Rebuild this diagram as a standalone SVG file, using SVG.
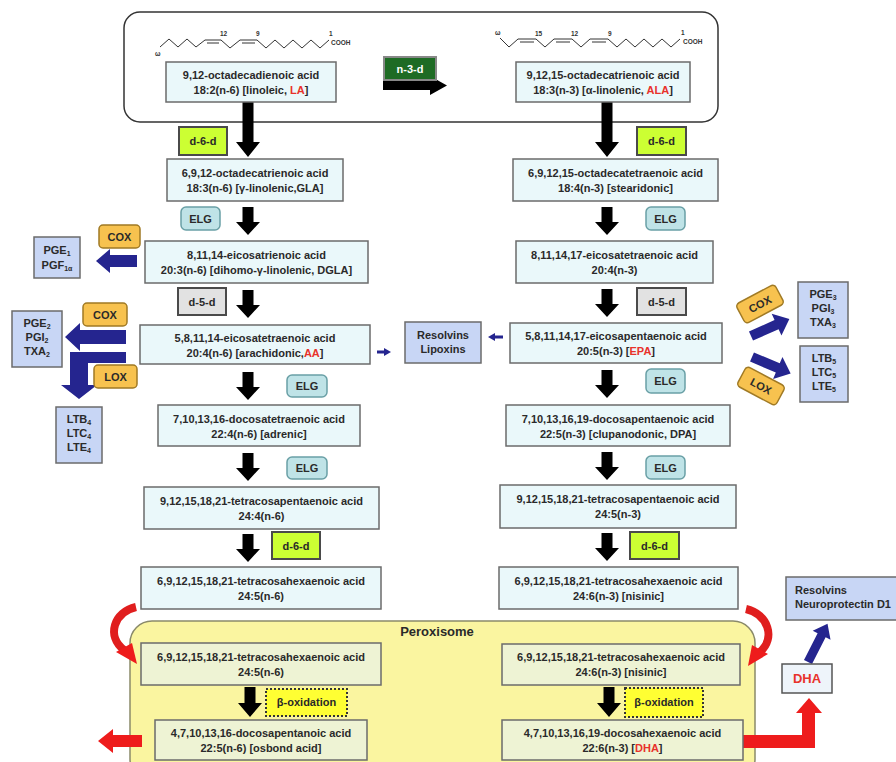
<svg xmlns="http://www.w3.org/2000/svg" width="896" height="762" viewBox="0 0 896 762">
<defs>
<style>
.box{fill:#eaf8fa;stroke:#6b6b6b;stroke-width:1.5}
.pbox{fill:#eef3d4;stroke:#6b6b6b;stroke-width:1.5}
.t{font-family:"Liberation Sans",Arial,sans-serif;font-weight:bold;font-size:11px;fill:#2a2a2a;text-anchor:middle}
.s{font-size:7px}
.red{fill:#e8322b}
.d6{fill:#ccff33;stroke:#4a4a4a;stroke-width:2}
.d5{fill:#e2e2e2;stroke:#4a4a4a;stroke-width:2}
.elg{fill:#bfe3e7;stroke:#6aa0a6;stroke-width:1.5}
.cox{fill:#f7c24f;stroke:#a07a25;stroke-width:1.5}
.prod{fill:#c8d6f5;stroke:#6b6b6b;stroke-width:1.5}
.blk{fill:#000}
.blue{fill:#25258f}
.rarr{fill:#ee1c1c}
.chain{fill:none;stroke:#333;stroke-width:1}
.ct{font-family:"Liberation Sans",Arial,sans-serif;font-weight:bold;font-size:6.5px;fill:#333}
</style>
<polygon id="dshort" points="-5.5,0 5.5,0 5.5,15 12,15 0,28 -12,15 -5.5,15"/>
<polygon id="dlong" points="-5.5,0 5.5,0 5.5,40 12,40 0,55 -12,40 -5.5,40"/>
<polygon id="dox" points="-5.5,0 5.5,0 5.5,16 12,16 0,30 -12,16 -5.5,16"/>
</defs>
<rect width="896" height="762" fill="#fff"/>

<g id="top-frame">
<rect x="124" y="12" width="594" height="110" rx="16" fill="#fff" stroke="#333" stroke-width="1.5"/>
</g>

<g id="peroxisome">
<rect x="130" y="621" width="625" height="160" rx="22" fill="#faf5a0" stroke="#8a8a6a" stroke-width="1.5"/>
<text class="t" x="437" y="636" style="font-size:13px">Peroxisome</text>
</g>

<g id="la-structure">
<polyline class="chain" points="160,47 169,39 178,47 187,39 196,47 205,40 221,40 230,48 240,40 257,40 266,48 275,40 284,48 293,40 302,48 311,40 320,48 329,40"/>
<line class="chain" x1="207" y1="43" x2="219" y2="43"/>
<line class="chain" x1="242" y1="43" x2="255" y2="43"/>
<text class="ct" x="155" y="56">ω</text>
<text class="ct" x="220" y="36">12</text>
<text class="ct" x="256" y="36">9</text>
<text class="ct" x="329" y="36">1</text>
<text class="ct" x="331" y="45">COOH</text>
</g>

<g id="ala-structure">
<polyline class="chain" points="500,38 509,47 518,39 536,39 545,47 554,39 572,39 581,47 590,39 608,39 617,47 626,39 635,47 644,39 653,47 662,39 671,47 680,39"/>
<line class="chain" x1="520" y1="42" x2="534" y2="42"/>
<line class="chain" x1="556" y1="42" x2="570" y2="42"/>
<line class="chain" x1="592" y1="42" x2="606" y2="42"/>
<text class="ct" x="495" y="35">ω</text>
<text class="ct" x="535" y="36">15</text>
<text class="ct" x="571" y="36">12</text>
<text class="ct" x="608" y="36">9</text>
<text class="ct" x="681" y="35">1</text>
<text class="ct" x="683" y="44">COOH</text>
</g>

<g id="connectors">
<use href="#dlong" class="blk" x="248" y="102"/>
<use href="#dshort" class="blk" x="248" y="207"/>
<use href="#dshort" class="blk" x="248" y="290"/>
<use href="#dshort" class="blk" x="248" y="372"/>
<use href="#dshort" class="blk" x="248" y="453"/>
<use href="#dshort" class="blk" x="248" y="534"/>
<use href="#dox" class="blk" x="250" y="687"/>
<use href="#dlong" class="blk" x="607" y="102"/>
<use href="#dshort" class="blk" x="607" y="207"/>
<use href="#dshort" class="blk" x="607" y="289"/>
<use href="#dshort" class="blk" x="607" y="370"/>
<use href="#dshort" class="blk" x="607" y="452"/>
<use href="#dshort" class="blk" x="607" y="533"/>
<use href="#dox" class="blk" x="609" y="687"/>
<polygon class="blk" points="383,81 430,81 430,76 447,85.5 430,95 430,90 383,90"/>
<polygon class="blue" points="137,255 110,255 110,249 96,261 110,273 110,267 137,267"/>
<polygon class="blue" points="126,330 80,330 80,323 65,337 80,351 80,344 126,344"/>
<polygon class="blue" points="126,352 126,363 88,363 88,385 97,385 79,399 61,385 70,385 70,352"/>
<polygon class="blue" points="377,350.5 384,350.5 384,348 391,352 384,356 384,353.5 377,353.5"/>
<polygon class="blue" points="503,335.5 495,335.5 495,333 488,337 495,341 495,338.5 503,338.5"/>
<polygon class="blue" transform="translate(751,336) rotate(-24)" points="0,-5 28,-5 28,-12 42,0 28,12 28,5 0,5"/>
<polygon class="blue" transform="translate(752,357) rotate(23)" points="0,-5 28,-5 28,-12 42,0 28,12 28,5 0,5"/>
<polygon class="blue" transform="translate(808,662) rotate(-63)" points="0,-4.5 30,-4.5 30,-10 43,0 30,10 30,4.5 0,4.5"/>
<path d="M136,607 C114,612 106,636 124,650" fill="none" stroke="#e01e1e" stroke-width="8"/>
<polygon class="rarr" points="116,652 132,643 137,664"/>
<path d="M746,609 C768,614 776,638 760,652" fill="none" stroke="#e01e1e" stroke-width="8"/>
<polygon class="rarr" points="768,654 752,645 748,666"/>
<polygon class="rarr" points="743,735 802,735 802,713 796,713 809,698 822,713 815,713 815,748 743,748"/>
<polygon class="rarr" points="142,735 113,735 113,729 98,741 113,753 113,747 142,747"/>
</g>

<g id="n3d">
<rect x="384" y="57" width="52" height="23" fill="#1e6b24" stroke="#888" stroke-width="2"/>
<text class="t" x="410" y="72.5" style="fill:#fff">n-3-d</text>
</g>

<g id="LA"><rect class="box" x="166" y="62" width="170" height="40"/>
<text class="t" x="251" y="79">9,12-octadecadienoic acid</text>
<text class="t" x="251" y="94">18:2(n-6) [linoleic, <tspan class="red">LA</tspan>]</text></g>
<g id="GLA"><rect class="box" x="167" y="159" width="176" height="42"/>
<text class="t" x="255" y="177">6,9,12-octadecatrienoic acid</text>
<text class="t" x="255" y="192">18:3(n-6) [γ-linolenic,GLA]</text></g>
<g id="DGLA"><rect class="box" x="145" y="241" width="223" height="42"/>
<text class="t" x="256.5" y="259">8,11,14-eicosatrienoic acid</text>
<text class="t" x="256.5" y="274">20:3(n-6) [dihomo-γ-linolenic, DGLA]</text></g>
<g id="AA"><rect class="box" x="140" y="325" width="230" height="39"/>
<text class="t" x="255" y="342">5,8,11,14-eicosatetraenoic acid</text>
<text class="t" x="255" y="357">20:4(n-6) [arachidonic,<tspan class="red">AA</tspan>]</text></g>
<g id="adrenic"><rect class="box" x="158" y="405" width="202" height="41"/>
<text class="t" x="259" y="423">7,10,13,16-docosatetraenoic acid</text>
<text class="t" x="259" y="438">22:4(n-6) [adrenic]</text></g>
<g id="TPA-n6"><rect class="box" x="144" y="487" width="235" height="42"/>
<text class="t" x="261.5" y="505">9,12,15,18,21-tetracosapentaenoic acid</text>
<text class="t" x="261.5" y="520">24:4(n-6)</text></g>
<g id="THA-n6"><rect class="box" x="141" y="567" width="240" height="42"/>
<text class="t" x="261" y="585">6,9,12,15,18,21-tetracosahexaenoic acid</text>
<text class="t" x="261" y="600">24:5(n-6)</text></g>
<g id="THA-n6-perox"><rect class="pbox" x="141" y="643" width="240" height="42"/>
<text class="t" x="261" y="661">6,9,12,15,18,21-tetracosahexaenoic acid</text>
<text class="t" x="261" y="676">24:5(n-6)</text></g>
<g id="osbond"><rect class="pbox" x="155" y="720" width="212" height="40"/>
<text class="t" x="261" y="737">4,7,10,13,16-docosapentanoic acid</text>
<text class="t" x="261" y="752">22:5(n-6) [osbond acid]</text></g>

<g id="ALA"><rect class="box" x="516" y="62" width="174" height="40"/>
<text class="t" x="603" y="79">9,12,15-octadecatrienoic acid</text>
<text class="t" x="603" y="94">18:3(n-3) [α-linolenic, <tspan class="red">ALA</tspan>]</text></g>
<g id="stearidonic"><rect class="box" x="513" y="159" width="205" height="42"/>
<text class="t" x="615.5" y="177">6,9,12,15-octadecatetraenoic acid</text>
<text class="t" x="615.5" y="192">18:4(n-3) [stearidonic]</text></g>
<g id="ETA"><rect class="box" x="516" y="241" width="197" height="42"/>
<text class="t" x="614.5" y="259">8,11,14,17-eicosatetraenoic acid</text>
<text class="t" x="614.5" y="274">20:4(n-3)</text></g>
<g id="EPA"><rect class="box" x="510" y="323" width="212" height="40"/>
<text class="t" x="616" y="340">5,8,11,14,17-eicosapentaenoic acid</text>
<text class="t" x="616" y="355">20:5(n-3) [<tspan class="red">EPA</tspan>]</text></g>
<g id="DPA"><rect class="box" x="506" y="405" width="224" height="41"/>
<text class="t" x="618" y="423">7,10,13,16,19-docosapentaenoic acid</text>
<text class="t" x="618" y="438">22:5(n-3) [clupanodonic, DPA]</text></g>
<g id="TPA-n3"><rect class="box" x="500" y="485" width="236" height="43"/>
<text class="t" x="618" y="503">9,12,15,18,21-tetracosapentaenoic acid</text>
<text class="t" x="618" y="518">24:5(n-3)</text></g>
<g id="THA-n3"><rect class="box" x="499" y="567" width="239" height="42"/>
<text class="t" x="618.5" y="585">6,9,12,15,18,21-tetracosahexaenoic acid</text>
<text class="t" x="618.5" y="600">24:6(n-3) [nisinic]</text></g>
<g id="THA-n3-perox"><rect class="pbox" x="502" y="644" width="238" height="41"/>
<text class="t" x="621" y="661">6,9,12,15,18,21-tetracosahexaenoic acid</text>
<text class="t" x="621" y="676">24:6(n-3) [nisinic]</text></g>
<g id="DHA-acid"><rect class="pbox" x="502" y="720" width="241" height="40"/>
<text class="t" x="622.5" y="737">4,7,10,13,16,19-docosahexaenoic acid</text>
<text class="t" x="622.5" y="752">22:6(n-3) [<tspan class="red">DHA</tspan>]</text></g>

<g id="enz-d6d-1"><rect class="d6" x="179" y="127" width="48" height="28"/><text class="t" x="203" y="145">d-6-d</text></g>
<g id="enz-elg-1"><rect class="elg" x="181" y="207" width="39" height="23" rx="5"/><text class="t" x="200.5" y="222.5">ELG</text></g>
<g id="enz-cox-1"><rect class="cox" x="99" y="225" width="41" height="23" rx="4"/><text class="t" x="119.5" y="240.5">COX</text></g>
<g id="enz-d5d-1"><rect class="d5" x="178" y="288" width="48" height="27"/><text class="t" x="202" y="305.5">d-5-d</text></g>
<g id="enz-cox-2"><rect class="cox" x="83" y="303" width="44" height="23" rx="4"/><text class="t" x="105" y="318.5">COX</text></g>
<g id="enz-lox-1"><rect class="cox" x="94" y="365" width="43" height="23" rx="4"/><text class="t" x="115.5" y="380.5">LOX</text></g>
<g id="enz-elg-2"><rect class="elg" x="287" y="375" width="40" height="22" rx="5"/><text class="t" x="307" y="390">ELG</text></g>
<g id="enz-elg-3"><rect class="elg" x="287" y="457" width="40" height="22" rx="5"/><text class="t" x="307" y="472">ELG</text></g>
<g id="enz-d6d-2"><rect class="d6" x="272" y="532" width="48" height="27"/><text class="t" x="296" y="549.5">d-6-d</text></g>
<g id="enz-box-1"><rect x="266" y="689" width="81" height="27" fill="#ffff33" stroke="#333" stroke-width="2" stroke-dasharray="2,2"/><text class="t" x="306.5" y="706">β-oxidation</text></g>

<g id="enz-d6d-3"><rect class="d6" x="637" y="127" width="49" height="28"/><text class="t" x="661.5" y="145">d-6-d</text></g>
<g id="enz-elg-4"><rect class="elg" x="646" y="207" width="39" height="23" rx="5"/><text class="t" x="665.5" y="222.5">ELG</text></g>
<g id="enz-d5d-2"><rect class="d5" x="637" y="288" width="49" height="27"/><text class="t" x="661.5" y="305.5">d-5-d</text></g>
<g id="enz-elg-5"><rect class="elg" x="646" y="369" width="39" height="24" rx="5"/><text class="t" x="665.5" y="385">ELG</text></g>
<g id="enz-elg-6"><rect class="elg" x="646" y="456" width="39" height="23" rx="5"/><text class="t" x="665.5" y="471.5">ELG</text></g>
<g id="enz-d6d-4"><rect class="d6" x="630" y="532" width="49" height="27"/><text class="t" x="654.5" y="549.5">d-6-d</text></g>
<g id="enz-box-2"><rect x="625" y="688" width="78" height="29" fill="#ffff33" stroke="#333" stroke-width="2" stroke-dasharray="2,2"/><text class="t" x="664" y="706">β-oxidation</text></g>
<g id="enz-cox-3" transform="translate(760,304) rotate(-28)"><rect class="cox" x="-22" y="-11" width="44" height="22" rx="4"/><text class="t" x="0" y="4">COX</text></g>
<g id="enz-lox-2" transform="translate(761,386) rotate(28)"><rect class="cox" x="-22" y="-11" width="44" height="22" rx="4"/><text class="t" x="0" y="4">LOX</text></g>

<g id="prod-pge1"><rect class="prod" x="34" y="237" width="46" height="41"/>
<text class="t" x="57" y="254">PGE<tspan class="s" dy="2">1</tspan></text>
<text class="t" x="57" y="269">PGF<tspan class="s" dy="2">1α</tspan></text></g>
<g id="prod-pge2"><rect class="prod" x="12" y="311" width="50" height="56"/>
<text class="t" x="37" y="327">PGE<tspan class="s" dy="2">2</tspan></text>
<text class="t" x="37" y="341">PGI<tspan class="s" dy="2">2</tspan></text>
<text class="t" x="37" y="355">TXA<tspan class="s" dy="2">2</tspan></text></g>
<g id="prod-ltb4"><rect class="prod" x="56" y="407" width="46" height="56"/>
<text class="t" x="79" y="423">LTB<tspan class="s" dy="2">4</tspan></text>
<text class="t" x="79" y="437">LTC<tspan class="s" dy="2">4</tspan></text>
<text class="t" x="79" y="451">LTE<tspan class="s" dy="2">4</tspan></text></g>
<g id="prod-resolvins"><rect class="prod" x="405" y="322" width="76" height="41"/>
<text class="t" x="443" y="339">Resolvins</text>
<text class="t" x="443" y="353">Lipoxins</text></g>
<g id="prod-pge3"><rect class="prod" x="798" y="282" width="50" height="56"/>
<text class="t" x="823" y="298">PGE<tspan class="s" dy="2">3</tspan></text>
<text class="t" x="823" y="312">PGI<tspan class="s" dy="2">3</tspan></text>
<text class="t" x="823" y="326">TXA<tspan class="s" dy="2">3</tspan></text></g>
<g id="prod-ltb5"><rect class="prod" x="800" y="346" width="48" height="56"/>
<text class="t" x="824" y="362">LTB<tspan class="s" dy="2">5</tspan></text>
<text class="t" x="824" y="376">LTC<tspan class="s" dy="2">5</tspan></text>
<text class="t" x="824" y="390">LTE<tspan class="s" dy="2">5</tspan></text></g>
<g id="prod-npd1"><rect class="prod" x="786" y="577" width="118" height="43"/>
<text class="t" x="795" y="594" style="text-anchor:start">Resolvins</text>
<text class="t" x="795" y="608" style="text-anchor:start">Neuroprotectin D1</text></g>
<g id="DHA-label"><rect x="782" y="664" width="50" height="29" fill="#eef4fa" stroke="#555" stroke-width="1.5"/>
<text class="t" x="807" y="683" style="font-size:13px;fill:#e8322b">DHA</text></g>
</svg>
